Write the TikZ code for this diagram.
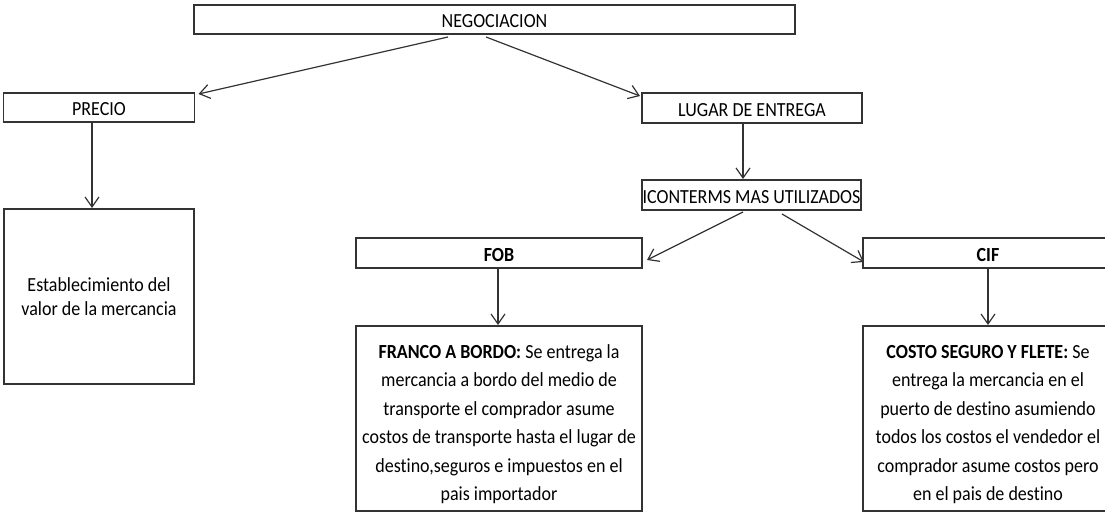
\documentclass[tikz,border=0pt]{standalone}
\usepackage{fontspec}
\setmainfont{Carlito}[FakeStretch=0.9, Ligatures={NoCommon}]
\usetikzlibrary{arrows.meta}
\definecolor{lc}{HTML}{333333}
\definecolor{ac}{HTML}{333333}
\newcommand{\lblfont}{\fontsize{20}{24}\selectfont}
\newcommand{\bodyfont}{\fontsize{20}{28.5}\selectfont}
\begin{document}
\begin{tikzpicture}[x=1pt,y=-1pt,
  box/.style={draw=lc, line width=1.6pt, inner sep=0pt, outer sep=0pt, font=\lblfont, text height=17pt, text depth=0pt},
  bigbox/.style={draw=lc, line width=1.6pt, inner sep=0pt, outer sep=0pt},
  txt/.style={inner sep=0pt, outer sep=0pt, align=center, anchor=north, font=\bodyfont},
  arr/.style={draw=ac, line width=1.2pt, -{Straight Barb[length=10pt,width=14pt]}}]
\useasboundingbox (0,0) rectangle (1105,513);
\clip (0,0) rectangle (1105,513);

\node[box, minimum width=601pt, minimum height=29pt] (neg) at (494.5,19.5) {NEGOCIACION};
\node[box, minimum width=191pt, minimum height=29pt] (precio) at (99,107.5) {PRECIO};
\node[bigbox, minimum width=190.5pt, minimum height=175pt, align=center, font=\fontsize{20}{24.5}\selectfont] (estab) at (99,296.5) {Establecimiento del\\valor de la mercancia};
\node[box, minimum width=220pt, minimum height=30pt] (lugar) at (752,108) {LUGAR DE ENTREGA};
\node[box, minimum width=219pt, minimum height=30pt] (icon) at (751.5,195) {ICONTERMS MAS UTILIZADOS};
\node[box, minimum width=286pt, minimum height=30pt, font=\lblfont\bfseries] (fob) at (499,253) {FOB};
\node[box, minimum width=250pt, minimum height=30pt, font=\lblfont\bfseries] (cif) at (988,253) {CIF};
\node[bigbox, minimum width=286pt, minimum height=185pt] (franco) at (499,418.5) {};
\node[bigbox, minimum width=250pt, minimum height=185pt] (costo) at (988,418.5) {};

\node[txt] (francotxt) at (499,343) {\rule{0pt}{15pt}\textbf{FRANCO A BORDO:} Se entrega la\\mercancia a bordo del medio de\\transporte el comprador asume\\costos de transporte hasta el lugar de\\destino,seguros e impuestos en el\\pais importador};
\node[txt] (costotxt) at (988,343) {\rule{0pt}{15pt}\textbf{COSTO SEGURO Y FLETE:} Se\\entrega la mercancia en el\\puerto de destino asumiendo\\todos los costos el vendedor el\\comprador asume costos pero\\en el pais de destino};

\draw[arr] ([xshift=254pt,yshift=-3pt]neg.south west) -- ([xshift=4pt,yshift=-1pt]precio.north east);
\draw[arr] ([xshift=292pt,yshift=-3pt]neg.south west) -- ([xshift=-2pt,yshift=-3pt]lugar.north west);
\draw[arr] ([xshift=-7pt]precio.south) -- ([xshift=-7pt,yshift=1pt]estab.north);
\draw[arr] ([xshift=-9pt]lugar.south) -- ([xshift=-8.5pt,yshift=1pt]icon.north);
\draw[arr] ([xshift=101pt,yshift=-2pt]icon.south west) -- ([xshift=5pt,yshift=-22pt]fob.north east);
\draw[arr] ([xshift=140pt,yshift=-4pt]icon.south west) -- ([xshift=1pt,yshift=-24pt]cif.north west);
\draw[arr] ([xshift=-1pt]fob.south) -- ([xshift=-1pt,yshift=1pt]franco.north);
\draw[arr] (cif.south) -- ([yshift=1pt]costo.north);
\end{tikzpicture}
\end{document}
